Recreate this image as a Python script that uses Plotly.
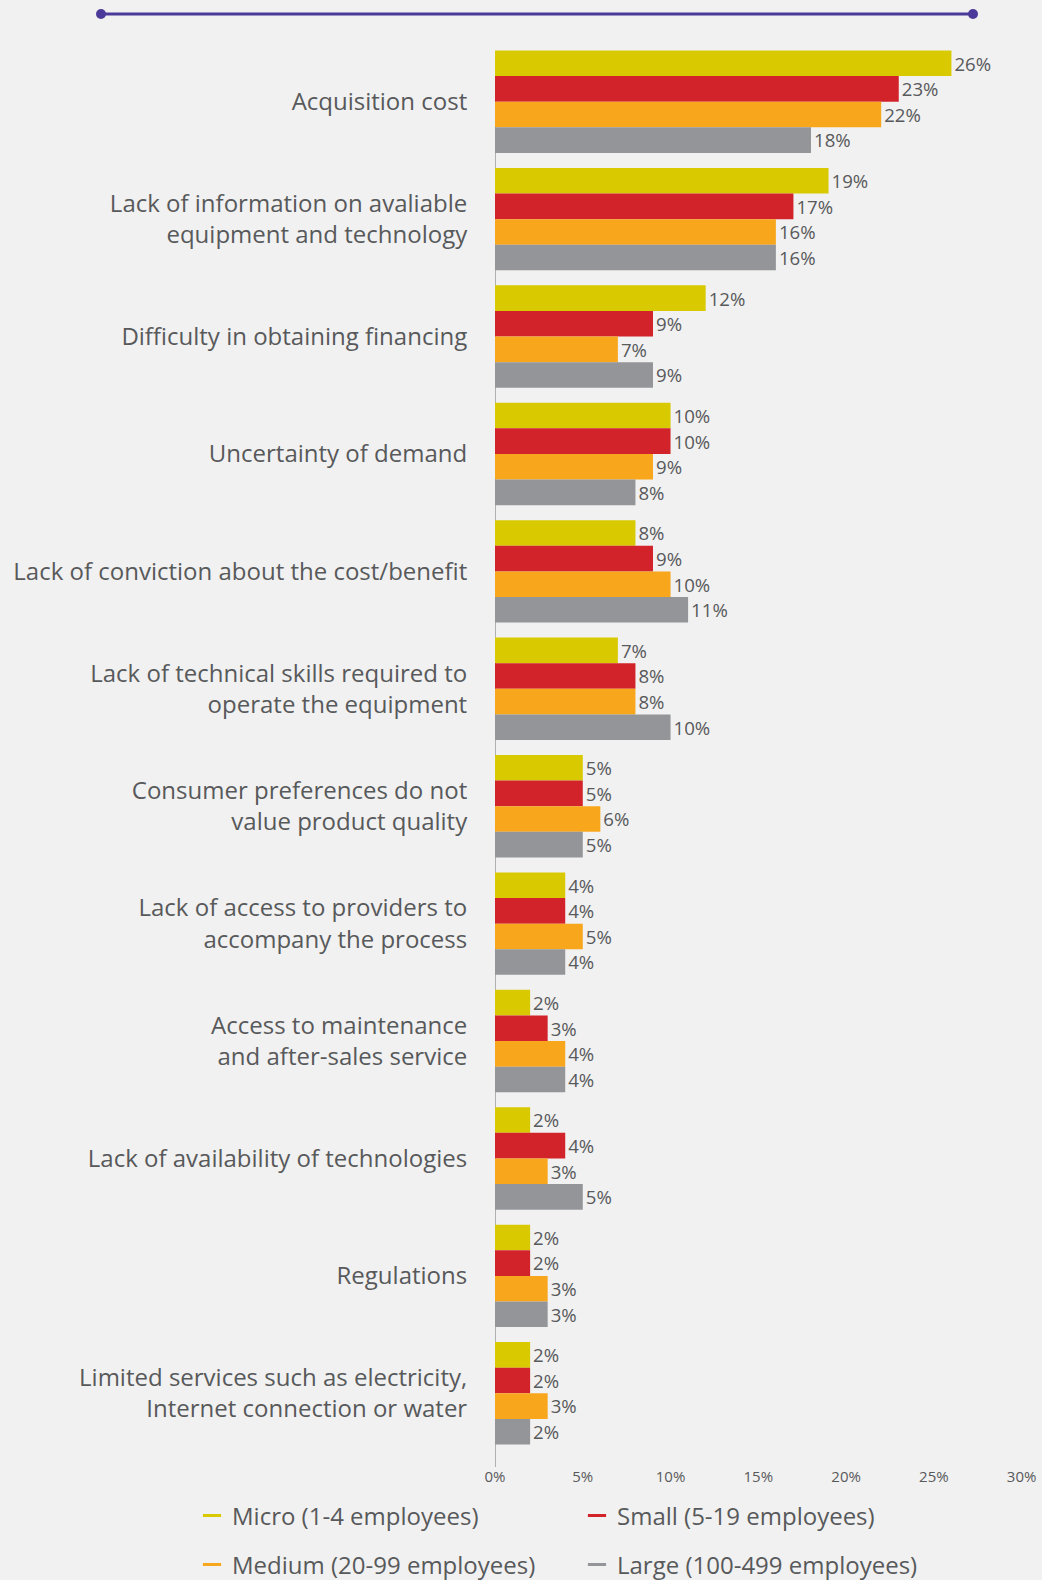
import plotly.graph_objects as go

categories = [
    "Acquisition cost",
    "Lack of information on avaliable<br>equipment and technology",
    "Difficulty in obtaining financing",
    "Uncertainty of demand",
    "Lack of conviction about the cost/benefit",
    "Lack of technical skills required to<br>operate the equipment",
    "Consumer preferences do not<br>value product quality",
    "Lack of access to providers to<br>accompany the process",
    "Access to maintenance<br>and after-sales service",
    "Lack of availability of technologies",
    "Regulations",
    "Limited services such as electricity,<br>Internet connection or water",
]
series_names = ["Micro (1-4 employees)", "Small (5-19 employees)",
                "Medium (20-99 employees)", "Large (100-499 employees)"]
micro = [26, 19, 12, 10, 8, 7, 5, 4, 2, 2, 2, 2]
small = [23, 17, 9, 10, 9, 8, 5, 4, 3, 4, 2, 2]
medium = [22, 16, 7, 9, 10, 8, 6, 5, 4, 3, 3, 3]
large = [18, 16, 9, 8, 11, 10, 5, 4, 4, 5, 3, 2]
tick_vals = [0, 5, 10, 15, 20, 25, 30]
tick_text = ["0%", "5%", "10%", "15%", "20%", "25%", "30%"]

colors = ["#D8C900", "#D2232A", "#F8A61C", "#939598"]
series = [micro, small, medium, large]

W, H = 1042, 1580
ML, MR, MT, MB = 495, 20, 43, 128
PW = W - ML - MR
PH = H - MT - MB
FONT = "Open Sans"
TXT = "#58595B"

fig = go.Figure()
for name, vals, col in zip(series_names, series, colors):
    fig.add_trace(go.Bar(
        y=categories, x=vals, orientation="h", name=name,
        marker=dict(color=col, line=dict(width=0)),
        text=[f"{v}%" for v in vals], textposition="outside",
        textfont=dict(family=FONT, size=24, color=TXT),
        cliponaxis=False, showlegend=False,
    ))

# legend entries (short dash symbols)
for i, (name, col) in enumerate(zip(series_names, colors)):
    fig.add_trace(go.Scatter(
        x=[None], y=[None], mode="markers", name=name,
        marker=dict(symbol="line-ew", size=13, color=col,
                    line=dict(color=col, width=3)),
        legend="legend" if i < 2 else "legend2",
    ))

def px_x(px):
    return (px - ML) / PW

def px_y(py):
    return (H - MB - py) / PH

legend_common = dict(
    orientation="h", xanchor="left", yanchor="middle",
    font=dict(family=FONT, size=24, color=TXT),
    bgcolor="rgba(0,0,0,0)", entrywidth=340, entrywidthmode="pixels",
    itemwidth=30,
)

AXC = "#9A9A9A"
PURPLE = "#4B3A9A"

fig.update_layout(
    width=W, height=H,
    margin=dict(l=ML, r=MR, t=MT, b=MB, autoexpand=False),
    paper_bgcolor="#F1F1F1", plot_bgcolor="#F1F1F1",
    barmode="group", bargap=0.128, bargroupgap=0,
    font=dict(family=FONT, color=TXT),
    legend=dict(x=px_x(192), y=px_y(1516), **legend_common),
    legend2=dict(x=px_x(192), y=px_y(1565), **legend_common),
    xaxis=dict(
        range=[0, 30.02], tickvals=tick_vals, ticktext=tick_text,
        showgrid=False, zeroline=False, showline=False,
        ticks="", tickfont=dict(family=FONT, size=15, color=TXT),
        ticklabelstandoff=14,
    ),
    yaxis=dict(
        categoryorder="array", categoryarray=categories,
        autorange="reversed", showgrid=False, zeroline=False,
        showline=False,
        ticks="outside", ticklen=22, tickcolor="rgba(0,0,0,0)",
        tickfont=dict(family=FONT, size=24, color=TXT),
    ),
    shapes=[
        dict(type="line", xref="x", yref="paper",
             x0=0, x1=0, y0=px_y(1467), y1=px_y(67),
             line=dict(color=AXC, width=1.5), layer="below"),
        dict(type="line", xref="paper", yref="paper",
             x0=px_x(101), x1=px_x(973), y0=px_y(14), y1=px_y(14),
             line=dict(color=PURPLE, width=3)),
        dict(type="circle", xref="paper", yref="paper",
             x0=px_x(96), x1=px_x(106), y0=px_y(9), y1=px_y(19),
             fillcolor=PURPLE, line=dict(width=0)),
        dict(type="circle", xref="paper", yref="paper",
             x0=px_x(968), x1=px_x(978), y0=px_y(9), y1=px_y(19),
             fillcolor=PURPLE, line=dict(width=0)),
    ],
)

fig.write_html(
    "out.html",
    config={"displayModeBar": False},
    post_script="document.body.style.margin='0';"
                "document.body.style.background='#F1F1F1';",
)
